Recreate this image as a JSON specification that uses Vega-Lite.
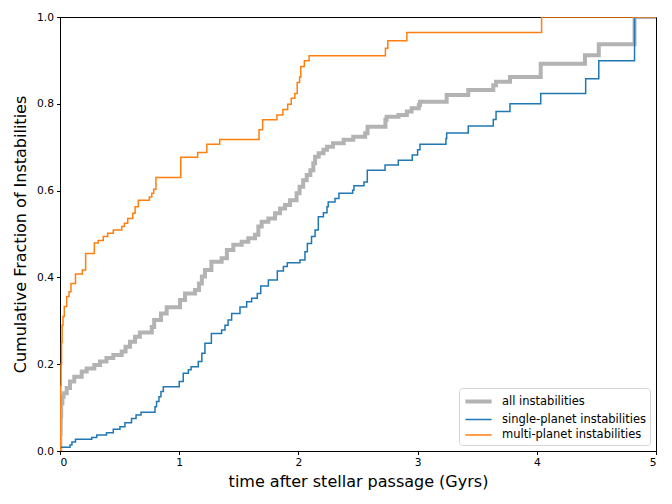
{
  "$schema": "https://vega.github.io/schema/vega-lite/v6.json",
  "autosize": "none",
  "padding": {"left": 60, "top": 17, "right": 16, "bottom": 53},
  "width": 596,
  "height": 434,
  "config": {
    "font": "DejaVu Sans",
    "view": {"stroke": "black", "strokeWidth": 1},
    "axis": {"grid": false, "domainColor": "black", "tickColor": "black", "labelColor": "black", "titleColor": "black", "labelFontSize": 10.7, "titleFontSize": 16, "titleFontWeight": "normal", "tickSize": 3.5, "labelPadding": 3},
    "legend": {"labelFontSize": 11.5, "labelColor": "black"}
  },
  "datasets": {
    "cdf": [
      {"series": "multi-planet instabilities", "t": 0, "f": 0},
      {"series": "multi-planet instabilities", "t": 0.002, "f": 0.05},
      {"series": "multi-planet instabilities", "t": 0.004, "f": 0.1},
      {"series": "multi-planet instabilities", "t": 0.006, "f": 0.15},
      {"series": "multi-planet instabilities", "t": 0.009, "f": 0.2},
      {"series": "multi-planet instabilities", "t": 0.013, "f": 0.25},
      {"series": "multi-planet instabilities", "t": 0.018, "f": 0.29},
      {"series": "multi-planet instabilities", "t": 0.025, "f": 0.31},
      {"series": "multi-planet instabilities", "t": 0.036, "f": 0.333},
      {"series": "multi-planet instabilities", "t": 0.056, "f": 0.356},
      {"series": "multi-planet instabilities", "t": 0.076, "f": 0.367},
      {"series": "multi-planet instabilities", "t": 0.092, "f": 0.386},
      {"series": "multi-planet instabilities", "t": 0.13, "f": 0.408},
      {"series": "multi-planet instabilities", "t": 0.187, "f": 0.417},
      {"series": "multi-planet instabilities", "t": 0.215, "f": 0.455},
      {"series": "multi-planet instabilities", "t": 0.288, "f": 0.479},
      {"series": "multi-planet instabilities", "t": 0.32, "f": 0.485},
      {"series": "multi-planet instabilities", "t": 0.363, "f": 0.494},
      {"series": "multi-planet instabilities", "t": 0.4, "f": 0.502},
      {"series": "multi-planet instabilities", "t": 0.447, "f": 0.509},
      {"series": "multi-planet instabilities", "t": 0.518, "f": 0.517},
      {"series": "multi-planet instabilities", "t": 0.54, "f": 0.525},
      {"series": "multi-planet instabilities", "t": 0.568, "f": 0.536},
      {"series": "multi-planet instabilities", "t": 0.61, "f": 0.548},
      {"series": "multi-planet instabilities", "t": 0.63, "f": 0.563},
      {"series": "multi-planet instabilities", "t": 0.657, "f": 0.578},
      {"series": "multi-planet instabilities", "t": 0.75, "f": 0.585},
      {"series": "multi-planet instabilities", "t": 0.77, "f": 0.594},
      {"series": "multi-planet instabilities", "t": 0.786, "f": 0.603},
      {"series": "multi-planet instabilities", "t": 0.805, "f": 0.63},
      {"series": "multi-planet instabilities", "t": 1.013, "f": 0.677},
      {"series": "multi-planet instabilities", "t": 1.155, "f": 0.688},
      {"series": "multi-planet instabilities", "t": 1.232, "f": 0.707},
      {"series": "multi-planet instabilities", "t": 1.34, "f": 0.718},
      {"series": "multi-planet instabilities", "t": 1.67, "f": 0.74},
      {"series": "multi-planet instabilities", "t": 1.7, "f": 0.763},
      {"series": "multi-planet instabilities", "t": 1.82, "f": 0.774},
      {"series": "multi-planet instabilities", "t": 1.87, "f": 0.787},
      {"series": "multi-planet instabilities", "t": 1.91, "f": 0.799},
      {"series": "multi-planet instabilities", "t": 1.94, "f": 0.813},
      {"series": "multi-planet instabilities", "t": 1.97, "f": 0.824},
      {"series": "multi-planet instabilities", "t": 1.99, "f": 0.849},
      {"series": "multi-planet instabilities", "t": 2.01, "f": 0.862},
      {"series": "multi-planet instabilities", "t": 2.02, "f": 0.886},
      {"series": "multi-planet instabilities", "t": 2.05, "f": 0.899},
      {"series": "multi-planet instabilities", "t": 2.09, "f": 0.911},
      {"series": "multi-planet instabilities", "t": 2.73, "f": 0.928},
      {"series": "multi-planet instabilities", "t": 2.75, "f": 0.945},
      {"series": "multi-planet instabilities", "t": 2.91, "f": 0.964},
      {"series": "multi-planet instabilities", "t": 4.04, "f": 1.0},
      {"series": "multi-planet instabilities", "t": 5, "f": 1.0},
      {"series": "all instabilities", "t": 0, "f": 0},
      {"series": "all instabilities", "t": 0.003, "f": 0.04},
      {"series": "all instabilities", "t": 0.006, "f": 0.08},
      {"series": "all instabilities", "t": 0.01, "f": 0.11},
      {"series": "all instabilities", "t": 0.02, "f": 0.125},
      {"series": "all instabilities", "t": 0.03, "f": 0.133},
      {"series": "all instabilities", "t": 0.056, "f": 0.145},
      {"series": "all instabilities", "t": 0.084, "f": 0.16},
      {"series": "all instabilities", "t": 0.12, "f": 0.171},
      {"series": "all instabilities", "t": 0.182, "f": 0.183},
      {"series": "all instabilities", "t": 0.224, "f": 0.19},
      {"series": "all instabilities", "t": 0.288, "f": 0.198},
      {"series": "all instabilities", "t": 0.336, "f": 0.206},
      {"series": "all instabilities", "t": 0.39, "f": 0.214},
      {"series": "all instabilities", "t": 0.447, "f": 0.221},
      {"series": "all instabilities", "t": 0.518, "f": 0.229},
      {"series": "all instabilities", "t": 0.55, "f": 0.24},
      {"series": "all instabilities", "t": 0.587, "f": 0.252},
      {"series": "all instabilities", "t": 0.63, "f": 0.263},
      {"series": "all instabilities", "t": 0.67, "f": 0.273},
      {"series": "all instabilities", "t": 0.77, "f": 0.286},
      {"series": "all instabilities", "t": 0.79, "f": 0.302},
      {"series": "all instabilities", "t": 0.847, "f": 0.317},
      {"series": "all instabilities", "t": 0.895, "f": 0.331},
      {"series": "all instabilities", "t": 1.007, "f": 0.348},
      {"series": "all instabilities", "t": 1.049, "f": 0.363},
      {"series": "all instabilities", "t": 1.133, "f": 0.371},
      {"series": "all instabilities", "t": 1.166, "f": 0.386},
      {"series": "all instabilities", "t": 1.19, "f": 0.402},
      {"series": "all instabilities", "t": 1.216, "f": 0.417},
      {"series": "all instabilities", "t": 1.27, "f": 0.436},
      {"series": "all instabilities", "t": 1.356, "f": 0.444},
      {"series": "all instabilities", "t": 1.4, "f": 0.463},
      {"series": "all instabilities", "t": 1.454, "f": 0.475},
      {"series": "all instabilities", "t": 1.524, "f": 0.482},
      {"series": "all instabilities", "t": 1.58, "f": 0.49},
      {"series": "all instabilities", "t": 1.636, "f": 0.498},
      {"series": "all instabilities", "t": 1.664, "f": 0.517},
      {"series": "all instabilities", "t": 1.692, "f": 0.528},
      {"series": "all instabilities", "t": 1.748, "f": 0.536},
      {"series": "all instabilities", "t": 1.804, "f": 0.548},
      {"series": "all instabilities", "t": 1.846, "f": 0.559},
      {"series": "all instabilities", "t": 1.888, "f": 0.567},
      {"series": "all instabilities", "t": 1.93, "f": 0.578},
      {"series": "all instabilities", "t": 1.985, "f": 0.594},
      {"series": "all instabilities", "t": 2.01, "f": 0.609},
      {"series": "all instabilities", "t": 2.04, "f": 0.624},
      {"series": "all instabilities", "t": 2.07, "f": 0.636},
      {"series": "all instabilities", "t": 2.1, "f": 0.647},
      {"series": "all instabilities", "t": 2.125, "f": 0.663},
      {"series": "all instabilities", "t": 2.14, "f": 0.678},
      {"series": "all instabilities", "t": 2.17, "f": 0.686},
      {"series": "all instabilities", "t": 2.21, "f": 0.694},
      {"series": "all instabilities", "t": 2.24, "f": 0.701},
      {"series": "all instabilities", "t": 2.29, "f": 0.709},
      {"series": "all instabilities", "t": 2.38, "f": 0.717},
      {"series": "all instabilities", "t": 2.46, "f": 0.724},
      {"series": "all instabilities", "t": 2.56, "f": 0.732},
      {"series": "all instabilities", "t": 2.58, "f": 0.747},
      {"series": "all instabilities", "t": 2.73, "f": 0.763},
      {"series": "all instabilities", "t": 2.74, "f": 0.77},
      {"series": "all instabilities", "t": 2.84, "f": 0.774},
      {"series": "all instabilities", "t": 2.91, "f": 0.782},
      {"series": "all instabilities", "t": 2.95, "f": 0.79},
      {"series": "all instabilities", "t": 3.01, "f": 0.797},
      {"series": "all instabilities", "t": 3.02, "f": 0.805},
      {"series": "all instabilities", "t": 3.244, "f": 0.82},
      {"series": "all instabilities", "t": 3.425, "f": 0.832},
      {"series": "all instabilities", "t": 3.635, "f": 0.843},
      {"series": "all instabilities", "t": 3.658, "f": 0.851},
      {"series": "all instabilities", "t": 3.775, "f": 0.862},
      {"series": "all instabilities", "t": 4.033, "f": 0.892},
      {"series": "all instabilities", "t": 4.404, "f": 0.912},
      {"series": "all instabilities", "t": 4.52, "f": 0.937},
      {"series": "all instabilities", "t": 4.82, "f": 1.0},
      {"series": "all instabilities", "t": 5, "f": 1.0},
      {"series": "single-planet instabilities", "t": 0, "f": 0},
      {"series": "single-planet instabilities", "t": 0.003, "f": 0.0085},
      {"series": "single-planet instabilities", "t": 0.084, "f": 0.014},
      {"series": "single-planet instabilities", "t": 0.1, "f": 0.021},
      {"series": "single-planet instabilities", "t": 0.13, "f": 0.027},
      {"series": "single-planet instabilities", "t": 0.266, "f": 0.031},
      {"series": "single-planet instabilities", "t": 0.308, "f": 0.037},
      {"series": "single-planet instabilities", "t": 0.39, "f": 0.042},
      {"series": "single-planet instabilities", "t": 0.447, "f": 0.05},
      {"series": "single-planet instabilities", "t": 0.503, "f": 0.056},
      {"series": "single-planet instabilities", "t": 0.545, "f": 0.065},
      {"series": "single-planet instabilities", "t": 0.6, "f": 0.075},
      {"series": "single-planet instabilities", "t": 0.638, "f": 0.083},
      {"series": "single-planet instabilities", "t": 0.68, "f": 0.089},
      {"series": "single-planet instabilities", "t": 0.797, "f": 0.102},
      {"series": "single-planet instabilities", "t": 0.81, "f": 0.114},
      {"series": "single-planet instabilities", "t": 0.83, "f": 0.125},
      {"series": "single-planet instabilities", "t": 0.847, "f": 0.137},
      {"series": "single-planet instabilities", "t": 0.867, "f": 0.148},
      {"series": "single-planet instabilities", "t": 1.0, "f": 0.16},
      {"series": "single-planet instabilities", "t": 1.034, "f": 0.179},
      {"series": "single-planet instabilities", "t": 1.077, "f": 0.187},
      {"series": "single-planet instabilities", "t": 1.1, "f": 0.194},
      {"series": "single-planet instabilities", "t": 1.16, "f": 0.206},
      {"series": "single-planet instabilities", "t": 1.19, "f": 0.225},
      {"series": "single-planet instabilities", "t": 1.216, "f": 0.248},
      {"series": "single-planet instabilities", "t": 1.27, "f": 0.271},
      {"series": "single-planet instabilities", "t": 1.356, "f": 0.279},
      {"series": "single-planet instabilities", "t": 1.384, "f": 0.29},
      {"series": "single-planet instabilities", "t": 1.41, "f": 0.302},
      {"series": "single-planet instabilities", "t": 1.44, "f": 0.317},
      {"series": "single-planet instabilities", "t": 1.51, "f": 0.332},
      {"series": "single-planet instabilities", "t": 1.566, "f": 0.344},
      {"series": "single-planet instabilities", "t": 1.608, "f": 0.352},
      {"series": "single-planet instabilities", "t": 1.655, "f": 0.363},
      {"series": "single-planet instabilities", "t": 1.684, "f": 0.38},
      {"series": "single-planet instabilities", "t": 1.748, "f": 0.394},
      {"series": "single-planet instabilities", "t": 1.823, "f": 0.415},
      {"series": "single-planet instabilities", "t": 1.874, "f": 0.425},
      {"series": "single-planet instabilities", "t": 1.907, "f": 0.434},
      {"series": "single-planet instabilities", "t": 2.013, "f": 0.44},
      {"series": "single-planet instabilities", "t": 2.055, "f": 0.459},
      {"series": "single-planet instabilities", "t": 2.075, "f": 0.478},
      {"series": "single-planet instabilities", "t": 2.11, "f": 0.494},
      {"series": "single-planet instabilities", "t": 2.14, "f": 0.509},
      {"series": "single-planet instabilities", "t": 2.167, "f": 0.54},
      {"series": "single-planet instabilities", "t": 2.21, "f": 0.549},
      {"series": "single-planet instabilities", "t": 2.24, "f": 0.563},
      {"series": "single-planet instabilities", "t": 2.25, "f": 0.574},
      {"series": "single-planet instabilities", "t": 2.307, "f": 0.582},
      {"series": "single-planet instabilities", "t": 2.34, "f": 0.594},
      {"series": "single-planet instabilities", "t": 2.455, "f": 0.601},
      {"series": "single-planet instabilities", "t": 2.466, "f": 0.611},
      {"series": "single-planet instabilities", "t": 2.55, "f": 0.62},
      {"series": "single-planet instabilities", "t": 2.578, "f": 0.647},
      {"series": "single-planet instabilities", "t": 2.727, "f": 0.659},
      {"series": "single-planet instabilities", "t": 2.838, "f": 0.67},
      {"series": "single-planet instabilities", "t": 2.955, "f": 0.682},
      {"series": "single-planet instabilities", "t": 3.0, "f": 0.694},
      {"series": "single-planet instabilities", "t": 3.02, "f": 0.707},
      {"series": "single-planet instabilities", "t": 3.238, "f": 0.72},
      {"series": "single-planet instabilities", "t": 3.244, "f": 0.733},
      {"series": "single-planet instabilities", "t": 3.425, "f": 0.749},
      {"series": "single-planet instabilities", "t": 3.635, "f": 0.764},
      {"series": "single-planet instabilities", "t": 3.658, "f": 0.782},
      {"series": "single-planet instabilities", "t": 3.775, "f": 0.8},
      {"series": "single-planet instabilities", "t": 4.033, "f": 0.824},
      {"series": "single-planet instabilities", "t": 4.41, "f": 0.858},
      {"series": "single-planet instabilities", "t": 4.52, "f": 0.899},
      {"series": "single-planet instabilities", "t": 4.82, "f": 1.0},
      {"series": "single-planet instabilities", "t": 5, "f": 1.0}
    ]
  },
  "data": {"name": "cdf"},
  "encoding": {
    "x": {"field": "t", "type": "quantitative", "scale": {"domain": [0, 5], "nice": false, "zero": false}, "axis": {"values": [0, 1, 2, 3, 4, 5], "format": "d", "title": "time after stellar passage (Gyrs)", "titlePadding": 6}},
    "y": {"field": "f", "type": "quantitative", "scale": {"domain": [0, 1], "nice": false}, "axis": {"values": [0, 0.2, 0.4, 0.6, 0.8, 1.0], "format": ".1f", "title": "Cumulative Fraction of Instabilities", "titlePadding": 8}},
    "color": {"field": "series", "type": "nominal", "scale": {"domain": ["all instabilities", "single-planet instabilities", "multi-planet instabilities"], "range": ["#b3b3b3", "#1f77b4", "#ff7f0e"]}, "legend": {"title": null, "orient": "bottom-right", "offset": 6, "padding": 4, "strokeColor": "#d5d5d5", "fillColor": "white", "cornerRadius": 3, "symbolType": "M-1,0H2.7", "symbolSize": 200, "rowPadding": 1.5, "labelOffset": 20}},
    "strokeWidth": {"field": "series", "type": "nominal", "scale": {"type": "ordinal", "domain": ["all instabilities", "single-planet instabilities", "multi-planet instabilities"], "range": [4, 1.5, 1.5]}, "legend": {"title": null, "orient": "bottom-right", "offset": 6, "padding": 4, "strokeColor": "#d5d5d5", "fillColor": "white", "cornerRadius": 3, "symbolType": "M-1,0H2.7", "symbolSize": 200, "rowPadding": 1.5, "labelOffset": 20}}
  },
  "layer": [
    {"transform": [{"filter": "datum.series === 'all instabilities'"}], "mark": {"type": "line", "interpolate": "step-after", "clip": true}},
    {"transform": [{"filter": "datum.series === 'single-planet instabilities'"}], "mark": {"type": "line", "interpolate": "step-after", "clip": true}},
    {"transform": [{"filter": "datum.series === 'multi-planet instabilities'"}], "mark": {"type": "line", "interpolate": "step-after", "clip": true}}
  ]
}
